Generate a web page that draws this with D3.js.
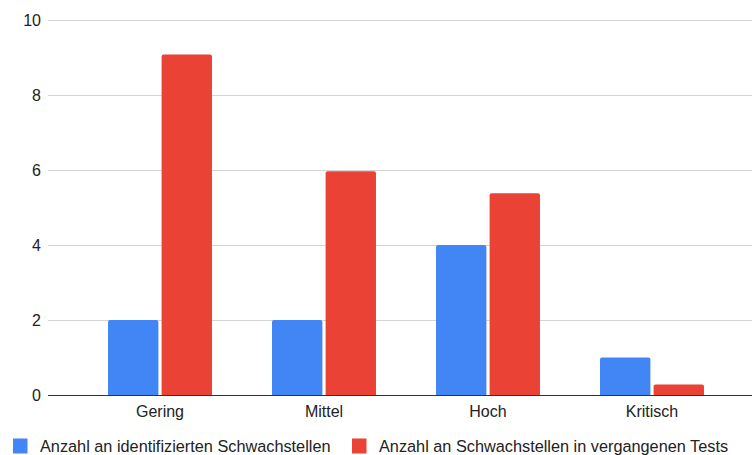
<!DOCTYPE html>
<html>
<head>
<meta charset="utf-8">
<script src="https://cdn.jsdelivr.net/npm/d3@7"></script>
<style>
  html, body { margin: 0; padding: 0; background: #fff; }
  svg { display: block; font-family: "Liberation Sans", Arial, sans-serif; }
</style>
</head>
<body>
<svg id="chart" width="752" height="455"></svg>
<script>
const categories = ["Gering", "Mittel", "Hoch", "Kritisch"];
const seriesNames = ["Anzahl an identifizierten Schwachstellen", "Anzahl an Schwachstellen in vergangenen Tests"];
const identified = [2, 2, 4, 1];
const pastTests = [9.08, 5.97, 5.38, 0.28];
const yTicks = [0, 2, 4, 6, 8, 10];
const colors = ["#4285f4", "#ea4335"];

const svg = d3.select("#chart");
const gridLeft = 48, gridRight = 752;
const y = d3.scaleLinear().domain([0, 10]).range([395, 20]);
const x0 = d3.scaleBand().domain(categories).range([78, 734]).paddingInner(0.366).paddingOuter(0.183);
const x1 = d3.scaleBand().domain([0, 1]).range([0, x0.bandwidth()]).paddingInner(0.06);

// gridlines
svg.append("g").selectAll("line").data(yTicks.filter(d => d !== 0)).join("line")
  .attr("x1", gridLeft).attr("x2", gridRight)
  .attr("y1", d => y(d) + 0.5).attr("y2", d => y(d) + 0.5)
  .attr("stroke", "#d4d4d4").attr("stroke-width", 1);

// y tick labels
svg.append("g").selectAll("text").data(yTicks).join("text")
  .attr("x", 41).attr("y", d => y(d)).attr("dy", "0.36em")
  .attr("text-anchor", "end").attr("font-size", 16).attr("fill", "#222")
  .text(d => d);

const series = [identified, pastTests];
const g = svg.append("g");
categories.forEach((c, i) => {
  series.forEach((vals, s) => {
    g.append("path")
      .attr("d", () => {
        const bx = x0(c) + x1(s), bw = x1.bandwidth();
        const top = y(vals[i]), bot = y(0);
        const r = Math.min(2, (bot - top) / 2);
        return `M${bx},${bot}V${top + r}Q${bx},${top} ${bx + r},${top}H${bx + bw - r}Q${bx + bw},${top} ${bx + bw},${top + r}V${bot}Z`;
      })
      .attr("fill", colors[s]);
  });
});

// baseline
svg.append("line").attr("x1", gridLeft).attr("x2", gridRight)
  .attr("y1", y(0) + 0.5).attr("y2", y(0) + 0.5)
  .attr("stroke", "#333").attr("stroke-width", 1);

// category labels
svg.append("g").selectAll("text").data(categories).join("text")
  .attr("x", d => x0(d) + x0.bandwidth() / 2).attr("y", 417)
  .attr("text-anchor", "middle").attr("font-size", 16).attr("fill", "#222")
  .text(d => d);

// legend
const legendX = [13, 352];
const lg = svg.append("g");
seriesNames.forEach((name, s) => {
  lg.append("rect").attr("x", legendX[s]).attr("y", 438.5).attr("width", 14.5).attr("height", 15)
    .attr("fill", colors[s]);
  lg.append("text").attr("x", legendX[s] + 27).attr("y", 452)
    .attr("font-size", 16.3).attr("fill", "#222").text(name);
});
</script>
</body>
</html>
